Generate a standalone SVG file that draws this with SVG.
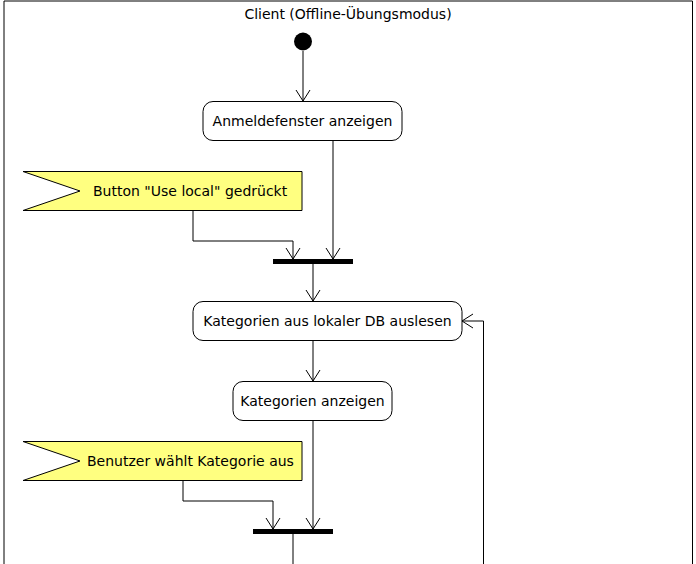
<svg xmlns="http://www.w3.org/2000/svg" width="696" height="564" viewBox="0 0 696 564">
<style>
text{font-family:"DejaVu Sans","Liberation Sans",sans-serif;font-size:14px;fill:#000}
.act{fill:#fff;stroke:#000;stroke-width:1}
.flag{fill:#ffff80;stroke:#000;stroke-width:1}
.ln{fill:none;stroke:#000;stroke-width:1}
.bar{fill:#000}
</style>
<defs>
<marker id="arr" viewBox="0 0 12 16" refX="11" refY="8" markerWidth="12" markerHeight="16" markerUnits="userSpaceOnUse" orient="auto">
<path d="M0,1 L11,8 L0,15" fill="none" stroke="#000" stroke-width="1"/>
</marker>
</defs>
<g id="frame">
<path d="M4,564 V1 H692.5 V564" fill="none" stroke="#000" stroke-width="1"/>
<text x="348" y="19" text-anchor="middle">Client (Offline-Übungsmodus)</text>
</g>
<g id="connectors">
<path class="ln" d="M303,51 V101" marker-end="url(#arr)"/>
<path class="ln" d="M333,140 V259" marker-end="url(#arr)"/>
<path class="ln" d="M193,210 V241 H293 V259" marker-end="url(#arr)"/>
<path class="ln" d="M313,264 V301" marker-end="url(#arr)"/>
<path class="ln" d="M313,340 V381" marker-end="url(#arr)"/>
<path class="ln" d="M313,420 V529" marker-end="url(#arr)"/>
<path class="ln" d="M183,480 V501 H273 V529" marker-end="url(#arr)"/>
<path class="ln" d="M293,534 V564"/>
<path class="ln" d="M483.5,564 V321 H462" marker-end="url(#arr)"/>
</g>
<g id="start">
<circle cx="303" cy="41.5" r="9" fill="#000"/>
</g>
<g id="anmeldefenster">
<rect class="act" x="203" y="101.5" width="199" height="39" rx="10"/>
<text x="302.5" y="126" text-anchor="middle">Anmeldefenster anzeigen</text>
</g>
<g id="button_signal">
<polygon class="flag" points="23,171.5 302,171.5 302,210.5 23,210.5 80,191"/>
<text x="93" y="196">Button "Use local" gedrückt</text>
</g>
<g id="join1">
<rect class="bar" x="273" y="259" width="80" height="5"/>
</g>
<g id="kategorien_auslesen">
<rect class="act" x="193" y="301.5" width="269" height="39" rx="10"/>
<text x="327.5" y="326" text-anchor="middle">Kategorien aus lokaler DB auslesen</text>
</g>
<g id="kategorien_anzeigen">
<rect class="act" x="233" y="381.5" width="159" height="39" rx="10"/>
<text x="312.5" y="406" text-anchor="middle">Kategorien anzeigen</text>
</g>
<g id="benutzer_signal">
<polygon class="flag" points="23,441.5 302,441.5 302,480.5 23,480.5 80,461"/>
<text x="87" y="466">Benutzer wählt Kategorie aus</text>
</g>
<g id="join2">
<rect class="bar" x="253" y="529" width="80" height="5"/>
</g>
</svg>
